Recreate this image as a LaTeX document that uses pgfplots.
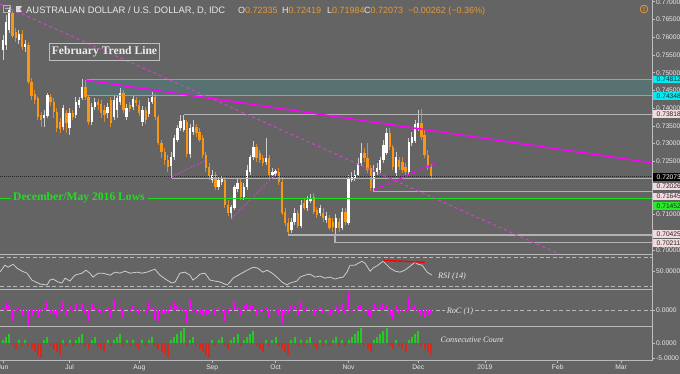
\documentclass[border=0pt]{standalone}
\usepackage{pgfplots}
\pgfplotsset{compat=1.18}
\usepackage{pgfplotstable}
\usepackage{fontspec}
\setmainfont{Liberation Serif}
\newfontfamily\uifont{Liberation Sans}
\definecolor{bgc}{RGB}{100,100,100}
\definecolor{axisgray}{RGB}{190,190,190}
\definecolor{ticktext}{RGB}{232,232,232}
\definecolor{cup}{RGB}{255,255,255}
\definecolor{cdn}{RGB}{250,150,20}
\definecolor{wup}{RGB}{205,205,205}
\definecolor{wdn}{RGB}{215,140,50}
\definecolor{tealf}{RGB}{88,114,114}
\definecolor{cyanl}{RGB}{20,215,225}
\definecolor{mag}{RGB}{255,0,255}
\definecolor{dmag}{RGB}{200,70,200}
\definecolor{glow}{RGB}{30,225,30}
\definecolor{grayl}{RGB}{178,178,178}
\definecolor{pinkb}{RGB}{242,218,222}
\definecolor{boxtext}{RGB}{40,40,40}
\definecolor{cyanb}{RGB}{0,235,245}
\definecolor{greenb}{RGB}{40,235,40}
\definecolor{rsil}{RGB}{205,205,205}
\definecolor{cgreen}{RGB}{40,200,40}
\definecolor{cred}{RGB}{215,40,30}
\definecolor{oval}{RGB}{240,150,40}
\definecolor{sepgray}{RGB}{185,185,185}

\pgfplotstableread{
i o h l c
0 0.7564 0.7606 0.7536 0.7592
1 0.7578 0.7663 0.7564 0.7643
2 0.7620 0.7685 0.7612 0.7677
5 0.7592 0.7620 0.7581 0.7609
7 0.7572 0.7592 0.7558 0.7581
13 0.7372 0.7395 0.7347 0.7381
14 0.7378 0.7443 0.7372 0.7437
19 0.7347 0.7409 0.7338 0.7400
21 0.7344 0.7400 0.7324 0.7386
23 0.7381 0.7431 0.7372 0.7417
24 0.7409 0.7431 0.7400 0.7423
25 0.7429 0.7481 0.7423 0.7460
28 0.7361 0.7415 0.7353 0.7403
29 0.7403 0.7429 0.7395 0.7417
33 0.7386 0.7415 0.7372 0.7403
35 0.7375 0.7437 0.7367 0.7423
36 0.7395 0.7434 0.7372 0.7429
37 0.7417 0.7457 0.7409 0.7443
39 0.7375 0.7412 0.7367 0.7400
41 0.7403 0.7434 0.7395 0.7426
44 0.7361 0.7406 0.7350 0.7395
46 0.7384 0.7429 0.7375 0.7417
47 0.7417 0.7446 0.7412 0.7431
53 0.7237 0.7276 0.7203 0.7262
54 0.7262 0.7324 0.7254 0.7316
55 0.7310 0.7353 0.7305 0.7344
56 0.7344 0.7381 0.7336 0.7364
57 0.7338 0.7382 0.7333 0.7367
59 0.7270 0.7355 0.7259 0.7344
60 0.7333 0.7367 0.7324 0.7347
66 0.7197 0.7226 0.7189 0.7212
68 0.7178 0.7206 0.7169 0.7197
69 0.7192 0.7209 0.7183 0.7200
72 0.7104 0.7127 0.7087 0.7121
73 0.7118 0.7183 0.7113 0.7178
74 0.7172 0.7203 0.7164 0.7189
76 0.7149 0.7189 0.7141 0.7178
77 0.7178 0.7240 0.7169 0.7226
78 0.7220 0.7268 0.7212 0.7262
79 0.7262 0.7307 0.7254 0.7290
83 0.7248 0.7316 0.7240 0.7259
85 0.7212 0.7231 0.7203 0.7220
86 0.7214 0.7228 0.7209 0.7222
91 0.7056 0.7090 0.7048 0.7079
92 0.7079 0.7118 0.7071 0.7104
94 0.7068 0.7141 0.7062 0.7127
96 0.7118 0.7152 0.7110 0.7141
97 0.7138 0.7158 0.7133 0.7147
100 0.7104 0.7127 0.7096 0.7118
102 0.7085 0.7107 0.7076 0.7096
105 0.7062 0.7101 0.7021 0.7090
107 0.7062 0.7118 0.7056 0.7107
109 0.7076 0.7212 0.7071 0.7203
110 0.7197 0.7220 0.7192 0.7206
111 0.7200 0.7226 0.7195 0.7212
112 0.7212 0.7259 0.7206 0.7245
113 0.7245 0.7302 0.7237 0.7274
117 0.7175 0.7240 0.7166 0.7220
118 0.7220 0.7245 0.7212 0.7231
119 0.7226 0.7262 0.7217 0.7254
120 0.7254 0.7310 0.7245 0.7296
121 0.7274 0.7344 0.7268 0.7330
124 0.7217 0.7276 0.7209 0.7262
128 0.7220 0.7316 0.7212 0.7305
129 0.7302 0.7333 0.7293 0.7319
130 0.7307 0.7367 0.7302 0.7355
131 0.7344 0.7395 0.7336 0.7358
}\upc

\pgfplotstableread{
i o h l c
3 0.7668 0.7674 0.7598 0.7603
4 0.7615 0.7626 0.7587 0.7598
6 0.7609 0.7620 0.7564 0.7572
8 0.7578 0.7587 0.7468 0.7474
9 0.7474 0.7485 0.7423 0.7434
10 0.7440 0.7451 0.7412 0.7423
11 0.7429 0.7434 0.7367 0.7375
12 0.7381 0.7389 0.7347 0.7367
15 0.7431 0.7440 0.7406 0.7417
16 0.7417 0.7429 0.7372 0.7389
17 0.7389 0.7400 0.7333 0.7344
18 0.7361 0.7372 0.7330 0.7341
20 0.7386 0.7395 0.7330 0.7358
22 0.7386 0.7395 0.7367 0.7375
26 0.7460 0.7479 0.7423 0.7431
27 0.7431 0.7437 0.7353 0.7361
30 0.7417 0.7426 0.7395 0.7409
31 0.7412 0.7423 0.7372 0.7386
32 0.7395 0.7409 0.7361 0.7381
34 0.7423 0.7431 0.7347 0.7358
38 0.7443 0.7451 0.7386 0.7395
40 0.7409 0.7417 0.7389 0.7398
42 0.7423 0.7431 0.7406 0.7415
43 0.7409 0.7423 0.7378 0.7386
45 0.7395 0.7403 0.7355 0.7367
48 0.7431 0.7440 0.7367 0.7375
49 0.7375 0.7381 0.7296 0.7302
50 0.7302 0.7310 0.7259 0.7276
51 0.7276 0.7288 0.7240 0.7254
52 0.7254 0.7268 0.7220 0.7234
58 0.7361 0.7367 0.7262 0.7270
61 0.7347 0.7355 0.7319 0.7330
62 0.7333 0.7344 0.7305 0.7310
63 0.7316 0.7324 0.7259 0.7268
64 0.7268 0.7276 0.7220 0.7231
65 0.7234 0.7245 0.7197 0.7206
67 0.7212 0.7220 0.7169 0.7178
70 0.7197 0.7206 0.7118 0.7127
71 0.7127 0.7141 0.7096 0.7104
75 0.7192 0.7203 0.7141 0.7149
80 0.7290 0.7299 0.7248 0.7259
81 0.7274 0.7282 0.7245 0.7254
82 0.7259 0.7268 0.7237 0.7245
84 0.7259 0.7268 0.7203 0.7212
87 0.7220 0.7231 0.7183 0.7192
88 0.7192 0.7206 0.7099 0.7104
89 0.7107 0.7118 0.7068 0.7076
90 0.7076 0.7090 0.7043 0.7051
93 0.7104 0.7113 0.7062 0.7068
95 0.7133 0.7147 0.7113 0.7118
98 0.7149 0.7161 0.7101 0.7107
99 0.7113 0.7121 0.7090 0.7099
101 0.7104 0.7118 0.7079 0.7090
103 0.7090 0.7099 0.7056 0.7062
104 0.7079 0.7090 0.7051 0.7065
106 0.7079 0.7090 0.7051 0.7062
108 0.7107 0.7118 0.7071 0.7079
114 0.7274 0.7288 0.7248 0.7259
115 0.7259 0.7302 0.7217 0.7226
116 0.7231 0.7240 0.7165 0.7175
122 0.7330 0.7344 0.7282 0.7290
123 0.7290 0.7296 0.7226 0.7234
125 0.7254 0.7262 0.7226 0.7234
126 0.7248 0.7262 0.7217 0.7226
127 0.7234 0.7245 0.7212 0.7220
132 0.7358 0.7398 0.7310 0.7319
133 0.7324 0.7338 0.7259 0.7268
134 0.7268 0.7282 0.7226 0.7234
135 0.72335 0.72419 0.71984 0.72073
}\dnc

\pgfplotstableread{
i r
0 0.20
1 0.70
2 0.47
3 -1.01
4 -0.07
5 0.15
6 -0.51
7 0.12
8 -1.41
9 -0.55
10 -0.15
11 -0.66
12 -0.11
13 0.19
14 0.76
15 -0.27
16 -0.38
17 -0.62
18 -0.04
19 0.80
20 -0.58
21 0.38
22 -0.15
23 0.58
24 0.08
25 0.51
26 -0.40
27 -0.96
28 0.58
29 0.19
30 -0.11
31 -0.32
32 -0.07
33 0.30
34 -0.62
35 0.89
36 0.08
37 0.19
38 -0.66
39 0.07
40 -0.03
41 0.38
42 -0.15
43 -0.40
44 0.12
45 -0.38
46 0.69
47 0.19
48 -0.77
49 -1.00
50 -0.36
51 -0.30
52 -0.27
53 0.38
54 0.74
55 0.38
56 0.27
57 0.04
58 -1.28
59 1.02
60 0.04
61 -0.23
62 -0.27
63 -0.58
64 -0.51
65 -0.34
66 0.08
67 -0.47
68 0.26
69 0.04
70 -1.00
71 -0.32
72 0.23
73 0.78
74 0.15
75 -0.55
76 0.40
77 0.66
78 0.49
79 0.38
80 -0.42
81 -0.07
82 -0.12
83 0.19
84 -0.64
85 0.11
86 0.03
87 -0.42
88 -1.21
89 -0.38
90 -0.34
91 0.38
92 0.34
93 -0.49
94 0.81
95 -0.12
96 0.32
97 0.08
98 -0.55
99 -0.11
100 0.26
101 -0.38
102 0.08
103 -0.47
104 0.04
105 0.34
106 -0.38
107 0.62
108 -0.38
109 1.70
110 0.04
111 0.08
112 0.45
113 0.40
114 -0.21
115 -0.45
116 -0.70
117 0.62
118 0.15
119 0.32
120 0.58
121 0.47
122 -0.55
123 -0.77
124 0.38
125 -0.38
126 -0.11
127 -0.08
128 1.17
129 0.19
130 0.49
131 0.04
132 -0.53
133 -0.70
134 -0.47
135 -0.36
}\roc

\pgfplotstableread{
i n
0 1
1 2
2 3
3 -1
4 -2
5 1
6 -1
7 1
8 -1
9 -2
10 -3
11 -4
12 -5
13 1
14 2
15 -1
16 -2
17 -3
18 -4
19 1
20 -1
21 1
22 -1
23 1
24 2
25 3
26 -1
27 -2
28 1
29 2
30 -1
31 -2
32 -3
33 1
34 -1
35 1
36 2
37 3
38 -1
39 1
40 -1
41 1
42 -1
43 -2
44 1
45 -1
46 1
47 2
48 -1
49 -2
50 -3
51 -4
52 -5
53 1
54 2
55 3
56 4
57 5
58 -1
59 1
60 2
61 -1
62 -2
63 -3
64 -4
65 -5
66 1
67 -1
68 1
69 2
70 -1
71 -2
72 1
73 2
74 3
75 -1
76 1
77 2
78 3
79 4
80 -1
81 -2
82 -3
83 1
84 -1
85 1
86 2
87 -1
88 -2
89 -3
90 -4
91 1
92 2
93 -1
94 1
95 -1
96 1
97 2
98 -1
99 -2
100 1
101 -1
102 1
103 -1
104 1
105 2
106 -1
107 1
108 -1
109 1
110 2
111 3
112 4
113 5
114 -1
115 -2
116 -3
117 1
118 2
119 3
120 4
121 5
122 -1
123 -2
124 1
125 -1
126 -2
127 -3
128 1
129 2
130 3
131 4
132 -1
133 -2
134 -3
135 -4
}\cnt

\pgfplotsset{
  panel/.style={scale only axis, width=652pt, xmin=-0.946, xmax=204.73,
    axis y line*=right,
    y axis line style={draw=axisgray, line width=0.8pt},
    tick style={draw=axisgray, line width=0.6pt},
    major tick length=2.5pt, tick align=outside,
    scaled y ticks=false,
    yticklabel style={font=\uifont\fontsize{6.7}{8}\selectfont, text=ticktext, anchor=west, inner sep=0pt, xshift=1.5pt},
    enlargelimits=false, clip=true,
    /pgf/number format/assume math mode=true},
  candle/.style 2 args={draw=none, no markers, forget plot,
    error bars/.cd, y dir=plus, y explicit, error mark=none,
    error bar style={solid, line width=#1, color=#2}},
}
\newcommand\rlab[4]{\node[fill=#2, text=#3, anchor=west, inner xsep=3.5pt, inner ysep=0pt, minimum height=7.8pt, font=\uifont\fontsize{6.7}{7}\selectfont] at (653,-#1) {#4};}

\begin{document}
\begin{tikzpicture}[x=1pt,y=1pt]
\useasboundingbox (0,0) rectangle (680,-373);
\fill[bgc] (-2,2) rectangle (682,-375);

% ---------- main price panel ----------
\begin{axis}[panel, axis x line=none, at={(0pt,0pt)}, anchor=north west, height=254.5pt,
  ymin=0.69873, ymax=0.7705,
  ytick={0.700,0.710,0.725,0.730,0.735,0.740,0.745,0.750,0.755,0.760,0.765,0.770},
  extra y ticks={0.705,0.715,0.720}, extra y tick labels={},
  yticklabel style={/pgf/number format/.cd, fixed, fixed zerofill, precision=5}]
\fill[tealf] (axis cs:26.2,0.74348) rectangle (axis cs:204.73,0.74812);
% wicks
\addplot[candle={0.9pt}{wup}] table[x=i, y=l, y error plus expr={\thisrow{h}-\thisrow{l}}] {\upc};
\addplot[candle={0.9pt}{wdn}] table[x=i, y=l, y error plus expr={\thisrow{h}-\thisrow{l}}] {\dnc};
% bodies
\addplot[candle={2.3pt}{cup}] table[x=i, y=o, y error plus expr={\thisrow{c}-\thisrow{o}}] {\upc};
\addplot[candle={2.3pt}{cdn}] table[x=i, y=c, y error plus expr={\thisrow{o}-\thisrow{c}}] {\dnc};
% levels
\addplot[cyanl, line width=1pt] coordinates {(26.2,0.74812) (204.73,0.74812)};
\addplot[cyanl, line width=1pt] coordinates {(26.2,0.74348) (204.73,0.74348)};
\addplot[grayl, line width=1.3pt] coordinates {(57.1,0.73818) (204.73,0.73818)};
\addplot[grayl, line width=1.3pt] coordinates {(53.3,0.72026) (204.73,0.72026)};
\addplot[grayl, line width=1.3pt] coordinates {(116.7,0.71645) (204.73,0.71645)};
\addplot[grayl, line width=1.3pt] coordinates {(89.9,0.70425) (204.73,0.70425)};
\addplot[grayl, line width=1.3pt] coordinates {(104.7,0.70425) (104.7,0.70211) (204.73,0.70211)};
\addplot[black!85, line width=0.7pt, dash pattern=on 1pt off 1pt] coordinates {(-0.946,0.72073) (204.73,0.72073)};
\addplot[glow, line width=1.4pt] coordinates {(-0.946,0.71452) (2.5,0.71452)};
\addplot[glow, line width=1.4pt] coordinates {(45.7,0.71452) (204.73,0.71452)};
% trend lines
\addplot[dmag, line width=1.1pt, dash pattern=on 3pt off 3pt] coordinates {(-0.946,0.76935) (204.73,0.68718)};
\addplot[mag, line width=1.5pt] coordinates {(26.2,0.7479) (204.73,0.7246)};
\addplot[dmag, line width=1.1pt, dash pattern=on 1.5pt off 2pt] coordinates {(53.3,0.7207) (64.3,0.7254)};
\addplot[dmag, line width=1.1pt, dash pattern=on 1.5pt off 2pt] coordinates {(72.1,0.7089) (86.3,0.7216)};
\addplot[mag, line width=1.4pt, dash pattern=on 4pt off 3pt] coordinates {(117,0.7169) (136.3,0.7245)};
\end{axis}

% ---------- RSI panel ----------
\begin{axis}[panel, axis x line=none, at={(0pt,-254.5pt)}, anchor=north west, height=34.5pt,
  ymin=25.9, ymax=73.4, ytick={50},
  yticklabel style={/pgf/number format/.cd, fixed, fixed zerofill, precision=4}]
\addplot[sepgray, line width=0.8pt, dash pattern=on 4pt off 2.5pt] coordinates {(-0.946,70) (204.73,70)};
\addplot[sepgray, line width=0.8pt, dash pattern=on 4pt off 2.5pt] coordinates {(-0.946,30) (204.73,30)};
\addplot[rsil, line width=0.8pt] coordinates {(-0.9,49.5) (0.6,58.7) (1.6,56.0) (3.2,60.0) (4.4,54.6) (6.0,50.5) (7.6,47.7) (9.1,38.2) (11.7,32.7) (13.9,31.4) (14.8,38.2) (15.8,39.6) (17.4,35.5) (18.6,34.1) (19.6,40.9) (21.1,36.8) (22.7,45.0) (24.9,47.7) (26.2,51.8) (27.4,47.7) (28.4,42.3) (30.0,47.7) (31.5,47.7) (33.8,45.0) (35.3,49.1) (36.9,47.7) (38.5,50.5) (40.1,47.7) (42.3,49.1) (43.8,47.7) (45.4,49.1) (47.9,53.2) (49.5,45.0) (51.7,38.2) (53.3,34.1) (54.3,35.5) (55.8,47.7) (57.4,49.1) (59.0,45.0) (59.9,38.2) (61.2,42.3) (62.1,46.4) (63.7,47.7) (65.3,38.2) (66.9,36.8) (68.5,35.5) (70.7,31.4) (71.6,35.5) (72.6,40.9) (74.8,46.4) (77.0,51.8) (78.9,55.9) (80.4,54.6) (82.0,49.1) (83.3,51.8) (84.9,47.7) (86.4,42.3) (88.0,35.5) (89.6,31.4) (90.5,34.1) (92.7,36.8) (93.7,42.3) (95.3,45.0) (96.8,46.4) (98.4,42.3) (100.0,43.7) (101.6,40.9) (103.2,42.3) (104.7,39.6) (106.3,41.6) (107.3,42.3) (108.5,49.1) (109.5,58.7) (111.0,58.7) (113.2,64.1) (114.2,61.4) (115.8,50.5) (116.7,54.6) (118.3,58.7) (119.9,64.1) (122.1,54.6) (123.7,50.5) (125.2,49.1) (126.8,51.8) (128.4,57.3) (130.0,62.8) (130.9,60.0) (132.2,58.7) (133.8,49.1) (135.3,45.0)};
\addplot[red, line width=1.4pt] coordinates {(119.9,65.4) (133.1,62.7)};
\end{axis}

% ---------- RoC panel ----------
\begin{axis}[panel, axis x line=none, at={(0pt,-289pt)}, anchor=north west, height=37pt,
  ymin=-1.45, ymax=1.91, ytick={0},
  yticklabel style={/pgf/number format/.cd, fixed, fixed zerofill, precision=4}]
\addplot[sepgray, line width=0.8pt, dash pattern=on 4pt off 2.5pt] coordinates {(-0.946,0) (204.73,0)};
\addplot[ycomb, mag, line width=2pt] table[x=i, y=r] {\roc};
\end{axis}

% ---------- Consecutive count panel ----------
\begin{axis}[panel, at={(0pt,-326pt)}, anchor=north west, height=34.7pt,
  ymin=-5.8, ymax=5.77, ytick={-5,0},
  yticklabel style={/pgf/number format/.cd, fixed, fixed zerofill, precision=4},
  axis x line*=bottom, x axis line style={draw=sepgray, line width=1pt},
  xtick={0,21,43,66,86,109,131,152,175,195},
  xticklabels={Jun,Jul,Aug,Sep,Oct,Nov,Dec,2019,Feb,Mar},
  xticklabel style={font=\uifont\fontsize{6.7}{8}\selectfont, text=ticktext, anchor=north, inner sep=0pt, yshift=-1pt}]
\addplot[ycomb, cgreen, line width=2pt, restrict y to domain=0.5:10] table[x=i, y=n] {\cnt};
\addplot[ycomb, cred, line width=2pt, restrict y to domain=-10:-0.5] table[x=i, y=n] {\cnt};
\end{axis}

% separators
\draw[sepgray, line width=1pt] (0,-254.5) -- (652,-254.5);
\draw[sepgray, line width=1pt] (0,-289) -- (652,-289);
\draw[sepgray, line width=1pt] (0,-326) -- (652,-326);

% right labels
\rlab{79.4}{cyanb}{boxtext}{0.74812}
\rlab{95.8}{cyanb}{boxtext}{0.74348}
\rlab{114.2}{pinkb}{boxtext}{0.73818}
\rlab{176.7}{black}{white}{0.72073}
\rlab{186.5}{pinkb}{boxtext}{0.72026}
\rlab{196.5}{pinkb}{boxtext}{0.71645}
\rlab{205.7}{greenb}{boxtext}{0.71452}
\rlab{234}{pinkb}{boxtext}{0.70425}
\rlab{243.3}{pinkb}{boxtext}{0.70211}

% header
\draw[gray!60!white, line width=0.6pt] (3,-5.5) rectangle (10,-12);
\draw[gray!60!white, line width=0.6pt] (4.5,-8.75) -- (8.5,-8.75);
\fill[white!85!black] (16,-6) -- (22,-6) -- (20,-9) -- (22,-12) -- (16,-12) -- cycle;
\node[anchor=base west, inner sep=0, text=ticktext, font=\uifont\fontsize{9.4}{10}\selectfont] at (26,-13.3) {AUSTRALIAN DOLLAR / U.S. DOLLAR, D, IDC};
\node[anchor=base west, inner sep=0, font=\uifont\fontsize{9}{10}\selectfont] at (238,-13.3) {\textcolor{ticktext}{O}\textcolor{oval}{0.72335}};
\node[anchor=base west, inner sep=0, font=\uifont\fontsize{9}{10}\selectfont] at (282,-13.3) {\textcolor{ticktext}{H}\textcolor{oval}{0.72419}};
\node[anchor=base west, inner sep=0, font=\uifont\fontsize{9}{10}\selectfont] at (327,-13.3) {\textcolor{ticktext}{L}\textcolor{oval}{0.71984}};
\node[anchor=base west, inner sep=0, font=\uifont\fontsize{9}{10}\selectfont] at (364,-13.3) {\textcolor{ticktext}{C}\textcolor{oval}{0.72073}};
\node[anchor=base west, inner sep=0, text=oval, font=\uifont\fontsize{9}{10}\selectfont] at (408,-13.3) {−0.00262 (−0.36\%)};
\draw[oval, line width=0.8pt] (644,-9) circle (3.8);
\node[text=oval, inner sep=0, font=\uifont\bfseries\fontsize{6}{6}\selectfont] at (644,-9) {!};

% annotations
\node[draw=white!75!black, line width=0.9pt, inner xsep=2.5pt, inner ysep=0pt, minimum height=17pt, text=white!93!black, font=\bfseries\fontsize{11.6}{12}\selectfont] at (104.5,-51.5) {February Trend Line};
\node[anchor=west, inner sep=0, text=glow, font=\bfseries\fontsize{11.6}{12}\selectfont] at (13,-197.5) {December/May 2016 Lows};
\node[text=ticktext, inner sep=0, font=\itshape\fontsize{8.3}{9}\selectfont] at (452,-276) {RSI (14)};
\node[text=ticktext, fill=bgc, inner xsep=2pt, inner ysep=0.5pt, font=\itshape\fontsize{8.3}{9}\selectfont] at (460,-311.5) {RoC (1)};
\node[text=ticktext, inner sep=0, font=\itshape\fontsize{8.3}{9}\selectfont] at (472,-340) {Consecutive Count};
\end{tikzpicture}
\end{document}
